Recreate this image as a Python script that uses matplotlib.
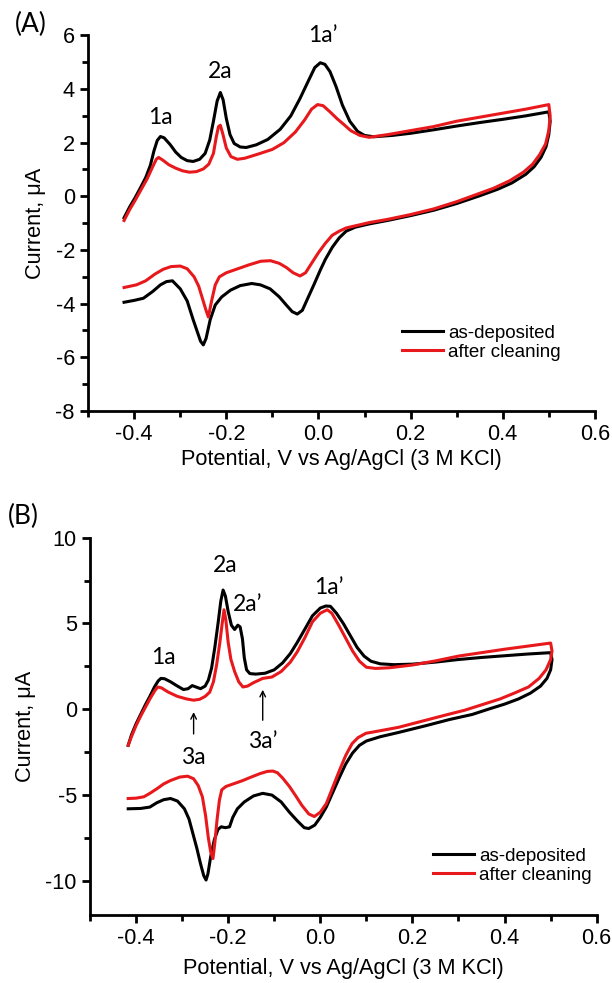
import numpy as np
import matplotlib.pyplot as plt
from matplotlib.ticker import MultipleLocator

# ---- panel A: potential (V) and current (uA), forward then reverse sweep ----
a_dep_x = [-0.422, -0.41, -0.398, -0.387, -0.375, -0.365, -0.357, -0.35, -0.343, -0.335, -0.322,
           -0.31, -0.298, -0.285, -0.272, -0.258, -0.246, -0.236, -0.228, -0.22, -0.213, -0.207,
           -0.2, -0.192, -0.183, -0.17, -0.157, -0.135, -0.11, -0.083, -0.06, -0.04, -0.022,
           -0.008, 0.004, 0.014, 0.025, 0.038, 0.052, 0.068, 0.085, 0.1, 0.12, 0.16, 0.2, 0.25,
           0.3, 0.35, 0.4, 0.45, 0.5,
           0.503, 0.5, 0.494, 0.483, 0.468, 0.45, 0.42, 0.39, 0.35, 0.3, 0.25, 0.2, 0.15, 0.11,
           0.08, 0.06, 0.045, 0.03, 0.015, 0.004, -0.01, -0.024, -0.035, -0.046, -0.057, -0.07,
           -0.085, -0.105, -0.126, -0.145, -0.17, -0.191, -0.21, -0.224, -0.235, -0.244, -0.25,
           -0.256, -0.264, -0.272, -0.285, -0.3, -0.317, -0.33, -0.343, -0.36, -0.38, -0.4, -0.422]
a_dep_y = [-0.8, -0.4, -0.05, 0.3, 0.7, 1.15, 1.7, 2.08, 2.23, 2.18, 1.93,
           1.65, 1.45, 1.33, 1.3, 1.38, 1.6, 2.1, 2.8, 3.55, 3.87, 3.6,
           2.9, 2.3, 1.97, 1.84, 1.82, 1.92, 2.12, 2.5, 3.0, 3.65, 4.3,
           4.8, 4.98, 4.92, 4.65, 4.1, 3.4, 2.8, 2.42, 2.27, 2.22, 2.27, 2.35, 2.48,
           2.62, 2.75, 2.87, 3.0, 3.15,
           2.8, 2.3, 1.85, 1.45, 1.1, 0.82, 0.5, 0.27, 0.02, -0.27, -0.52, -0.72, -0.9, -1.03,
           -1.15, -1.3, -1.55, -1.9, -2.35, -2.75, -3.3, -3.83, -4.25, -4.39, -4.3, -4.05,
           -3.75, -3.45, -3.3, -3.25, -3.33, -3.5, -3.75, -4.05, -4.6, -5.3, -5.54,
           -5.4, -5.0, -4.6, -3.9, -3.45, -3.15, -3.18, -3.3, -3.55, -3.8, -3.88, -3.95]

a_cln_x = [-0.422, -0.41, -0.398, -0.385, -0.372, -0.36, -0.352, -0.347, -0.338, -0.325, -0.31,
           -0.295, -0.28, -0.265, -0.25, -0.238, -0.228, -0.222, -0.217, -0.213, -0.208, -0.2,
           -0.19, -0.176, -0.16, -0.13, -0.1, -0.075, -0.05, -0.03, -0.015, -0.002, 0.01, 0.025,
           0.04, 0.055, 0.07, 0.09, 0.11, 0.15, 0.2, 0.25, 0.3, 0.35, 0.4, 0.45, 0.5,
           0.503, 0.5, 0.493, 0.48, 0.465, 0.445, 0.415, 0.38, 0.34, 0.3, 0.25, 0.2, 0.15, 0.11,
           0.08, 0.06, 0.045, 0.03, 0.015, 0.0, -0.015, -0.028, -0.04, -0.055, -0.07, -0.085,
           -0.104, -0.125, -0.15, -0.175, -0.2, -0.215, -0.224, -0.232, -0.239, -0.245, -0.252,
           -0.26, -0.27, -0.285, -0.3, -0.32, -0.337, -0.355, -0.375, -0.395, -0.422]
a_cln_y = [-0.9, -0.5, -0.15, 0.25, 0.65, 1.1, 1.38, 1.45, 1.35, 1.18, 1.05,
           0.95, 0.9, 0.92, 1.02, 1.2, 1.6, 2.2, 2.6, 2.65, 2.35, 1.8,
           1.48, 1.38, 1.42, 1.58, 1.75, 2.0, 2.4, 2.85, 3.25, 3.42, 3.38, 3.15,
           2.9, 2.68, 2.45, 2.27, 2.2, 2.3, 2.45, 2.6, 2.8, 2.95, 3.1, 3.25, 3.42,
           3.0, 2.45, 1.95, 1.55, 1.2, 0.9, 0.58, 0.3, 0.05, -0.2, -0.47, -0.68, -0.86, -0.98,
           -1.1, -1.18, -1.3, -1.45, -1.75, -2.1, -2.5, -2.85, -2.97, -2.85, -2.65, -2.5,
           -2.4, -2.42, -2.55, -2.7, -2.85, -3.0, -3.3, -3.9, -4.5, -4.2, -3.8,
           -3.35, -3.0, -2.7, -2.6, -2.62, -2.72, -2.9, -3.15, -3.3, -3.4]

# ---- panel B ----
b_dep_x = [-0.417, -0.41, -0.4, -0.39, -0.38, -0.37, -0.36, -0.352, -0.346, -0.338, -0.325,
           -0.31, -0.297, -0.287, -0.278, -0.27, -0.26, -0.25, -0.243, -0.236, -0.229, -0.222,
           -0.216, -0.211, -0.206, -0.2, -0.193, -0.186, -0.179, -0.174, -0.169, -0.165, -0.16,
           -0.153, -0.14, -0.12, -0.1, -0.082, -0.065, -0.05, -0.035, -0.017, 0.0, 0.012, 0.022,
           0.035, 0.05, 0.065, 0.08, 0.095, 0.11, 0.13, 0.16, 0.2, 0.25, 0.3, 0.35, 0.4, 0.45, 0.5,
           0.503, 0.5, 0.492, 0.478, 0.456, 0.43, 0.4, 0.37, 0.33, 0.28, 0.23, 0.17, 0.13, 0.1,
           0.085, 0.07, 0.055, 0.041, 0.027, 0.013, 0.0, -0.012, -0.025, -0.035, -0.05, -0.067,
           -0.085, -0.105, -0.125, -0.145, -0.165, -0.18, -0.19, -0.197, -0.206, -0.215, -0.222,
           -0.23, -0.238, -0.244, -0.248, -0.253, -0.26, -0.268, -0.276, -0.285, -0.295, -0.31,
           -0.325, -0.34, -0.355, -0.37, -0.39, -0.417]
b_dep_y = [-2.1, -1.5, -0.85, -0.3, 0.25, 0.75, 1.3, 1.65, 1.8, 1.78, 1.6,
           1.35, 1.15, 1.2, 1.38, 1.3, 1.2, 1.35, 1.7, 2.4, 3.6, 5.0,
           6.3, 6.95, 6.6, 5.7, 4.9, 4.65, 4.9, 4.8, 4.1, 3.0, 2.3,
           2.08, 2.05, 2.1, 2.3, 2.7, 3.25, 3.9, 4.6, 5.45, 5.9, 6.02, 6.0,
           5.6, 5.0, 4.3, 3.6, 3.1, 2.8, 2.65, 2.6, 2.63, 2.75, 2.9, 3.02, 3.12, 3.22, 3.3,
           2.9, 2.3, 1.8, 1.35, 0.94, 0.6, 0.3, 0.05, -0.3, -0.6, -0.95, -1.35, -1.6, -1.85,
           -2.1, -2.55, -3.2, -4.0, -4.85, -5.7, -6.3, -6.75, -6.95, -6.9, -6.5, -6.0,
           -5.4, -5.0, -4.9, -5.05, -5.4, -5.8, -6.3, -6.85, -6.9, -6.85, -7.0,
           -7.6, -8.6, -9.6, -9.95, -9.7, -9.0, -8.1, -7.3, -6.4, -5.8, -5.35,
           -5.2, -5.27, -5.45, -5.7, -5.78, -5.8]

b_cln_x = [-0.417, -0.41, -0.4, -0.39, -0.38, -0.37, -0.36, -0.353, -0.345, -0.33, -0.31,
           -0.29, -0.275, -0.262, -0.25, -0.24, -0.232, -0.225, -0.218, -0.213, -0.209, -0.205,
           -0.2, -0.194, -0.186, -0.177, -0.168, -0.158, -0.145, -0.125, -0.105, -0.085, -0.065,
           -0.05, -0.033, -0.017, 0.0, 0.015, 0.025, 0.04, 0.056, 0.07, 0.085, 0.1, 0.12, 0.15,
           0.2, 0.25, 0.3, 0.35, 0.4, 0.45, 0.5,
           0.503, 0.5, 0.49, 0.475, 0.452, 0.421, 0.39, 0.355, 0.314, 0.27, 0.22, 0.17, 0.13,
           0.099, 0.082, 0.069, 0.055, 0.041, 0.027, 0.013, 0.0, -0.013, -0.025, -0.04, -0.052,
           -0.067, -0.082, -0.093, -0.103, -0.115, -0.131, -0.15, -0.168, -0.189, -0.205, -0.214,
           -0.219, -0.224, -0.229, -0.233, -0.238, -0.243, -0.249, -0.256, -0.265, -0.275, -0.288,
           -0.305, -0.325, -0.34, -0.353, -0.37, -0.383, -0.4, -0.417]
b_cln_y = [-2.1, -1.6, -0.95, -0.4, 0.1, 0.6, 1.05, 1.3, 1.25, 1.0, 0.75,
           0.6, 0.53, 0.58, 0.75, 1.0, 1.6, 2.6, 3.9, 5.0, 5.8, 5.2,
           3.9, 2.9, 2.2, 1.6, 1.3, 1.35, 1.55, 1.8, 1.88, 2.2, 2.75,
           3.35, 4.2, 5.1, 5.6, 5.8, 5.6, 4.9, 4.1, 3.4, 2.8, 2.45, 2.38, 2.42,
           2.58, 2.82, 3.1, 3.3, 3.5, 3.68, 3.86,
           3.4, 2.9, 2.3, 1.8, 1.3, 0.94, 0.6, 0.3, -0.05, -0.35, -0.7, -1.05, -1.25,
           -1.4, -1.65, -2.0, -2.7, -3.6, -4.55, -5.5, -6.0, -6.25, -6.1, -5.6, -5.1,
           -4.5, -4.0, -3.7, -3.6, -3.62, -3.75, -3.95, -4.15, -4.35, -4.5, -4.7,
           -5.3, -6.4, -7.8, -8.7, -8.3, -7.5, -6.2, -5.1, -4.45, -4.05, -3.9,
           -3.95, -4.15, -4.35, -4.6, -4.9, -5.1, -5.18, -5.2]

labels = ['as-deposited', 'after cleaning']
a_peaks = [('1a', -0.343, 2.94), ('2a', -0.213, 4.65), ('1a\u2019', 0.009, 6.0)]
b_peaks = [('1a', -0.34, 3.0), ('2a', -0.206, 8.4), ('2a\u2019', -0.157, 6.1), ('1a\u2019', 0.019, 7.1)]

plt.rcParams['font.family'] = ['Liberation Sans', 'DejaVu Sans']
plt.rcParams['axes.unicode_minus'] = False
ann_font = ['Lato', 'DejaVu Sans']
red = '#e8191c'
fs = 15.7

fig = plt.figure(figsize=(6.12, 9.83), dpi=100)
axA = fig.add_axes([0.144, 0.582, 0.828, 0.382])
axB = fig.add_axes([0.147, 0.069, 0.828, 0.384])


def style(ax, ylim, ymaj, ymin, pad):
    ax.set_xlim(-0.5, 0.6)
    ax.set_ylim(*ylim)
    for s in ['top', 'right']:
        ax.spines[s].set_visible(False)
    for s in ['left', 'bottom']:
        ax.spines[s].set_linewidth(2)
    ax.xaxis.set_major_locator(MultipleLocator(0.2))
    ax.xaxis.set_minor_locator(MultipleLocator(0.1))
    ax.yaxis.set_major_locator(MultipleLocator(ymaj))
    ax.yaxis.set_minor_locator(MultipleLocator(ymin))
    ax.tick_params(which='major', length=6, width=2, labelsize=fs)
    ax.tick_params(which='minor', length=4, width=2)
    ax.xaxis.set_major_formatter(plt.FuncFormatter(lambda v, p: f'{v:.1f}'.replace('-0.0', '0.0')))
    ax.set_xlabel('Potential, V vs Ag/AgCl (3 M KCl)', fontsize=fs, labelpad=pad)
    ax.set_ylabel('Current, \u03bcA', fontsize=fs, labelpad=7)


def legend(ax, x, y):
    ax.legend(loc='center left', bbox_to_anchor=(x, y), frameon=False, fontsize=13.5,
              handlelength=2.2, handletextpad=0.27, labelspacing=0.1, borderpad=0,
              borderaxespad=0)


axA.plot(a_dep_x, a_dep_y, color='black', lw=2.2, label=labels[0], solid_joinstyle='round')
axA.plot(a_cln_x, a_cln_y, color=red, lw=2.2, label=labels[1], solid_joinstyle='round')
style(axA, (-8, 6), 2, 1, 3)
legend(axA, 0.619, 0.181)
for t, x, y in a_peaks:
    axA.text(x, y, t, ha='center', va='center', fontsize=16.5, family=ann_font, clip_on=False)
fig.text(0.05, 0.975, '(A)', ha='center', va='center', fontsize=19, family=ann_font)

axB.plot(b_dep_x, b_dep_y, color='black', lw=2.2, label=labels[0], solid_joinstyle='round')
axB.plot(b_cln_x, b_cln_y, color=red, lw=2.2, label=labels[1], solid_joinstyle='round')
style(axB, (-12, 10), 5, 2.5, 6)
legend(axB, 0.677, 0.131)
for t, x, y in b_peaks:
    axB.text(x, y, t, ha='center', va='center', fontsize=16.5, family=ann_font)
axB.annotate('', xy=(-0.275, 0.0), xytext=(-0.275, -1.6),
             arrowprops=dict(arrowstyle='->', color='black', lw=1))
axB.text(-0.275, -2.8, '3a', ha='center', va='center', fontsize=16.5, family=ann_font)
axB.annotate('', xy=(-0.125, 1.3), xytext=(-0.125, -0.8),
             arrowprops=dict(arrowstyle='->', color='black', lw=1))
axB.text(-0.125, -1.9, '3a\u2019', ha='center', va='center', fontsize=16.5, family=ann_font)
fig.text(0.038, 0.475, '(B)', ha='center', va='center', fontsize=19, family=ann_font)

fig.savefig('out.png', dpi=100)
